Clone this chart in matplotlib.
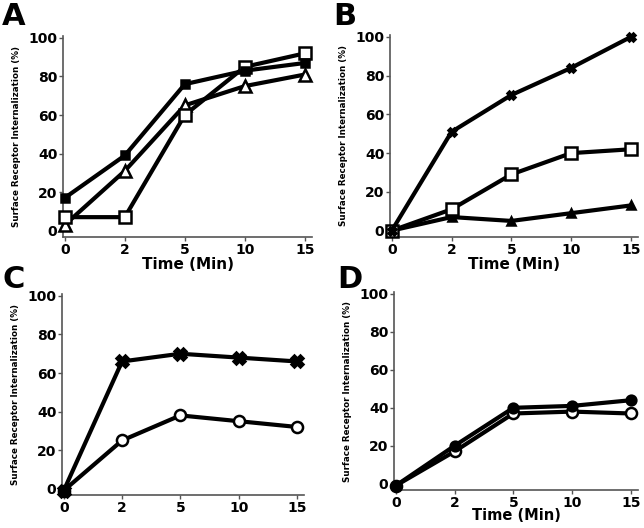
import numpy as np
import matplotlib
matplotlib.use("Agg")
import matplotlib.pyplot as plt

time_labels = ["0", "2", "5", "10", "15"]

# panel A
a_filled   = [17, 39, 76, 83, 87]
a_triangle = [3, 31, 65, 75, 81]
a_square   = [7, 7, 60, 85, 92]

# panel B
b_filled   = [0, 51, 70, 84, 100]
b_square   = [0, 11, 29, 40, 42]
b_triangle = [0, 7, 5, 9, 13]

# panel C
c_filled = [-1, 66, 70, 68, 66]
c_circle = [-1, 25, 38, 35, 32]

# panel D
d_filled = [-1, 20, 40, 41, 44]
d_circle = [-1, 17, 37, 38, 37]

plt.rcParams["font.family"] = ["DejaVu Sans"]

W, H = 644, 528
fig = plt.figure(figsize=(W / 100, H / 100), dpi=100)


def make_ax(left, top, right, bottom):
    # pixel box -> figure fraction
    return fig.add_axes([left / W, 1 - bottom / H, (right - left) / W, (bottom - top) / H])


def style(ax, xlabel=True, labelpad=0, xfs=11):
    x = np.arange(len(time_labels))
    ax.set_xlim(-0.03, 4.12)
    ax.set_ylim(-3.3, 101)
    ax.set_xticks(x)
    ax.set_xticklabels(time_labels, fontsize=10, fontweight="bold")
    ax.set_yticks([0, 20, 40, 60, 80, 100])
    ax.set_yticklabels(["0", "20", "40", "60", "80", "100"], fontsize=10, fontweight="bold")
    ax.tick_params(length=3, width=1, pad=1, color="#555555")
    for s in ["top", "right"]:
        ax.spines[s].set_visible(False)
    for s in ["left", "bottom"]:
        ax.spines[s].set_color("#555555")
        ax.spines[s].set_linewidth(1.2)
    ax.set_ylabel("Surface Receptor Internalization (%)", fontsize=6.3, fontweight="bold", labelpad=5)
    if xlabel:
        ax.set_xlabel("Time (Min)", fontsize=xfs, fontweight="bold", labelpad=labelpad)


def series(ax, vals, marker, filled, ms=8):
    x = np.arange(len(vals))
    ax.plot(x, vals, color="black", lw=3, marker=marker, ms=ms, mew=1.8,
            mfc="black" if filled else "white", mec="black", clip_on=False, zorder=3)


axA = make_ax(63, 36, 312, 237)
series(axA, a_triangle, "^", False)
series(axA, a_square, "s", False)
series(axA, a_filled, "s", True, ms=6)
style(axA)

axB = make_ax(390, 35, 638, 237)
series(axB, b_triangle, "^", True, ms=6)
series(axB, b_square, "s", False)
series(axB, b_filled, "X", True, ms=6)
style(axB)

axC = make_ax(62, 294, 304, 495)
series(axC, c_circle, "o", False)
series(axC, c_filled, "X", True, ms=8)
style(axC, xlabel=False)

axD = make_ax(394, 292, 638, 490)
series(axD, d_circle, "o", False)
series(axD, d_filled, "o", True, ms=7)
style(axD, labelpad=-1, xfs=10.5)

for letter, px, py in [("A", 2, 2), ("B", 333, 2), ("C", 2, 265), ("D", 337, 265)]:
    fig.text(px / W, 1 - py / H, letter, fontsize=22, fontweight="bold", ha="left", va="top")

fig.savefig("out.png", dpi=100)
